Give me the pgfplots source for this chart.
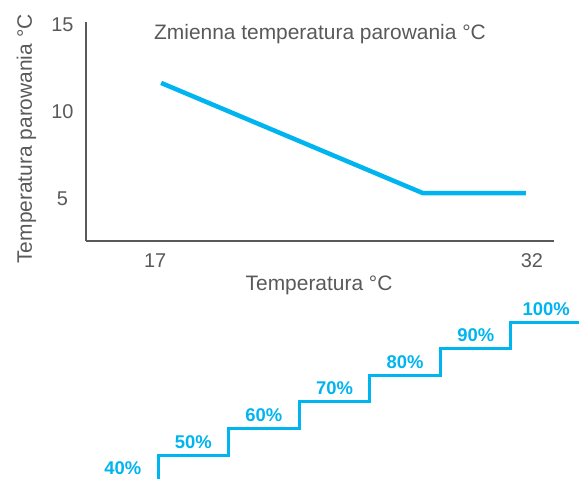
\documentclass[border=0pt]{standalone}
\usepackage{fontspec}
\setmainfont{Liberation Sans}
\usepackage{pgfplots}
\pgfplotsset{compat=1.18}
\definecolor{lineblue}{HTML}{00B4F0}
\definecolor{txtgray}{HTML}{595959}
\definecolor{axgray}{HTML}{595959}
\begin{document}
\begin{tikzpicture}
\useasboundingbox (0,0) rectangle (579bp,479bp);
\begin{axis}[
  at={(86bp,238bp)}, anchor=south west,
  scale only axis, width=468bp, height=219bp,
  xmin=14.25, xmax=32.88, ymin=2.59, ymax=15.17,
  axis x line*=bottom, axis y line*=left,
  axis line style={draw=axgray, line width=2.5bp},
  xtick={17,32}, ytick={5,10,15},
  major tick length=0pt,
  /pgf/number format/assume math mode=true,
  tick label style={font=\fontsize{20}{24}\selectfont, text=txtgray},
  yticklabel style={anchor=center, xshift=-23.5bp},
  xticklabel style={anchor=center, yshift=-19.5bp},
  label style={font=\fontsize{21}{25}\selectfont, text=txtgray},
  xlabel={Temperatura °C},
  xlabel style={at={(axis description cs:0.498,-0.228)}, anchor=base},
  ylabel={Temperatura parowania °C},
  ylabel style={at={(axis description cs:-0.1154,0.466)}, anchor=base},
  title={Zmienna temperatura parowania °C},
  title style={at={(axis description cs:0.5,0.892)}, anchor=base, font=\fontsize{21}{25}\selectfont, text=txtgray},
  clip=false,
]
\addplot[lineblue, line width=4.5bp, mark=none] coordinates {(17.24,11.67) (27.66,5.34) (31.76,5.34)};
\end{axis}
\begin{axis}[
  at={(87.4bp,-2.6bp)}, anchor=south west,
  scale only axis, width=494.2bp, height=186.2bp,
  xmin=0, xmax=7, ymin=0, ymax=7,
  hide axis, clip=false,
]
\addplot[lineblue, line width=3bp, mark=none, line join=miter] coordinates {(1,0) (1,1) (2,1) (2,2) (3,2) (3,3) (4,3) (4,4) (5,4) (5,5) (6,5) (6,6) (7.2,6)};
\addplot[draw=none, mark=none, nodes near coords, point meta=explicit symbolic,
  nodes near coords style={anchor=base, yshift=7bp, font=\bfseries\fontsize{18.5}{22}\selectfont, text=lineblue}]
  coordinates {(0.5,0) [40\%] (1.5,1) [50\%] (2.5,2) [60\%] (3.5,3) [70\%] (4.5,4) [80\%] (5.5,5) [90\%] (6.5,6) [100\%]};
\end{axis}
\end{tikzpicture}
\end{document}
